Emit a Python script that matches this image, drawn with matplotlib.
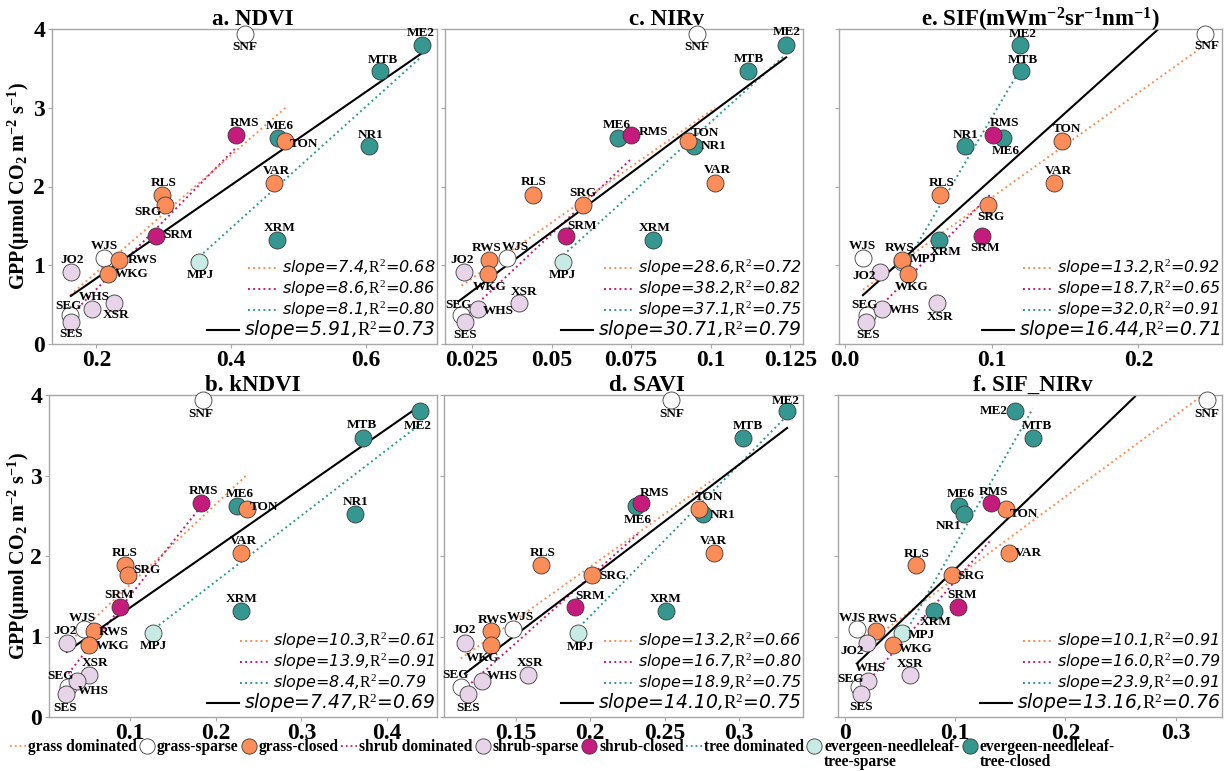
import matplotlib
matplotlib.use('Agg')
import matplotlib.pyplot as plt
from matplotlib.lines import Line2D

plt.rcParams['mathtext.fontset'] = 'custom'
plt.rcParams['mathtext.rm'] = 'Liberation Serif'
plt.rcParams['mathtext.it'] = 'Liberation Serif:italic'
plt.rcParams['mathtext.bf'] = 'Liberation Serif:bold'

# ---------------- data ----------------
sites = ['ME2', 'MTB', 'ME6', 'NR1', 'XRM', 'MPJ',
         'SNF', 'TON', 'VAR', 'RLS', 'SRG', 'WJS', 'RWS', 'WKG', 'SEG',
         'RMS', 'SRM', 'JO2', 'XSR', 'WHS', 'SES']
site_type = ['tc', 'tc', 'tc', 'tc', 'tc', 'ts',
             'gs', 'gc', 'gc', 'gc', 'gc', 'gs', 'gc', 'gc', 'gs',
             'sc', 'sc', 'ss', 'ss', 'ss', 'ss']
gpp = [3.80, 3.47, 2.62, 2.52, 1.32, 1.04,
       3.94, 2.58, 2.04, 1.89, 1.77, 1.09, 1.07, 0.89, 0.37,
       2.66, 1.37, 0.92, 0.52, 0.45, 0.28]

ndvi = [0.684, 0.621, 0.470, 0.605, 0.469, 0.353,
        0.421, 0.480, 0.464, 0.297, 0.302, 0.212, 0.234, 0.217, 0.161,
        0.408, 0.288, 0.162, 0.226, 0.193, 0.162]
kndvi = [0.438, 0.372, 0.225, 0.362, 0.230, 0.127,
         0.185, 0.236, 0.230, 0.094, 0.098, 0.047, 0.058, 0.053, 0.028,
         0.183, 0.088, 0.027, 0.053, 0.038, 0.026]
nirv = [0.1237, 0.1117, 0.0710, 0.0949, 0.0820, 0.0535,
        0.0957, 0.0930, 0.1014, 0.0440, 0.0598, 0.0359, 0.0303, 0.0301, 0.0214,
        0.0750, 0.0546, 0.0225, 0.0399, 0.0270, 0.0229]
savi = [0.332, 0.303, 0.231, 0.276, 0.251, 0.192,
        0.254, 0.273, 0.283, 0.167, 0.201, 0.148, 0.133, 0.133, 0.113,
        0.234, 0.190, 0.116, 0.158, 0.127, 0.118]
sif = [0.1192, 0.1199, 0.1081, 0.0817, 0.0644, 0.0387,
       0.2456, 0.1479, 0.1427, 0.0649, 0.0973, 0.0123, 0.0391, 0.0432, 0.0152,
       0.1007, 0.0935, 0.0242, 0.0626, 0.0253, 0.0145]
sif_nirv = [0.1545, 0.1703, 0.1030, 0.1076, 0.0803, 0.0515,
            0.3282, 0.1461, 0.1485, 0.0642, 0.0970, 0.0106, 0.0282, 0.0433, 0.0130,
            0.1327, 0.1024, 0.0203, 0.0585, 0.0212, 0.0145]

# fitted lines: (x0, x1, y0, y1) for grass, shrub, tree, all
fit_ndvi = [(0.161, 0.481, 0.62, 3.00), (0.167, 0.407, 0.41, 2.49),
            (0.353, 0.683, 1.11, 3.65), (0.162, 0.683, 0.61, 3.69)]
fit_nirv = [(0.0217, 0.1014, 0.74, 3.00), (0.0235, 0.075, 0.39, 2.35),
            (0.0537, 0.1234, 1.13, 3.67), (0.0207, 0.1237, 0.54, 3.64)]
fit_sif = [(0.0123, 0.2434, 0.69, 3.77), (0.0264, 0.1002, 0.52, 1.92),
           (0.0443, 0.1192, 1.11, 3.48), (0.0123, 0.2143, 0.62, 4.01)]
fit_kndvi = [(0.0322, 0.2357, 0.96, 3.00), (0.0283, 0.1795, 0.54, 2.57),
             (0.129, 0.435, 1.10, 3.61), (0.0264, 0.4333, 0.81, 3.83)]
fit_savi = [(0.1129, 0.283, 0.725, 2.955), (0.1174, 0.2336, 0.38, 2.30),
            (0.1928, 0.3305, 1.12, 3.71), (0.1158, 0.3323, 0.54, 3.59)]
fit_sifnirv = [(0.0273, 0.3227, 0.99, 3.98), (0.0258, 0.1324, 0.52, 2.20),
               (0.0524, 0.1703, 0.99, 3.83), (0.0112, 0.263, 0.67, 3.98)]

stats_ndvi = [('7.4', '0.68'), ('8.6', '0.86'), ('8.1', '0.80'), ('5.91', '0.73')]
stats_nirv = [('28.6', '0.72'), ('38.2', '0.82'), ('37.1', '0.75'), ('30.71', '0.79')]
stats_sif = [('13.2', '0.92'), ('18.7', '0.65'), ('32.0', '0.91'), ('16.44', '0.71')]
stats_kndvi = [('10.3', '0.61'), ('13.9', '0.91'), ('8.4', '0.79'), ('7.47', '0.69')]
stats_savi = [('13.2', '0.66'), ('16.7', '0.80'), ('18.9', '0.75'), ('14.10', '0.75')]
stats_sifnirv = [('10.1', '0.91'), ('16.0', '0.79'), ('23.9', '0.91'), ('13.16', '0.76')]

legend_labels = ['grass dominated', 'grass-sparse', 'grass-closed',
                 'shrub dominated', 'shrub-sparse', 'shrub-closed',
                 'tree dominated', 'evergeen-needleleaf-\ntree-sparse',
                 'evergeen-needleleaf-\ntree-closed']

# ---------------- styles ----------------
C_OR = '#fc8d59'
C_MG = '#c51b7d'
C_LV = '#e7d4e8'
C_LC = '#c7eae5'
C_TL = '#35978f'
fill = {'gs': 'white', 'gc': C_OR, 'ss': C_LV, 'sc': C_MG, 'ts': C_LC, 'tc': C_TL}
line_cols = [C_OR, C_MG, C_TL, 'black']
SPINE = '#a8a8a8'
SERIF = 'Liberation Serif'

# label offsets (pixels, dy positive downward)
off_a = {'SNF': (0, 13), 'ME2': (-1, -12), 'MTB': (3, -11), 'RMS': (8, -12), 'ME6': (2, -12),
         'TON': (19, 3), 'NR1': (2, -11), 'VAR': (2, -12), 'RLS': (2, -12), 'SRG': (-17, 7),
         'SRM': (22, -1), 'XRM': (2, -12), 'WJS': (0, -12), 'RWS': (23, 0), 'MPJ': (1, 13),
         'JO2': (1, -12), 'WKG': (24, 0), 'XSR': (2, 12), 'WHS': (3, -12), 'SEG': (-2, -9),
         'SES': (0, 12)}
off_c = {'SNF': (0, 13), 'ME2': (1, -13), 'MTB': (1, -12), 'ME6': (-2, -13), 'RMS': (22, -3),
         'TON': (17, -8), 'NR1': (19, 0), 'VAR': (2, -13), 'RLS': (1, -13), 'SRG': (0, -12),
         'SRM': (16, -10), 'XRM': (1, -12), 'RWS': (-2, -12), 'WJS': (9, -11), 'MPJ': (0, 13),
         'JO2': (-2, -12), 'WKG': (1, 13), 'XSR': (5, -11), 'WHS': (20, 2), 'SEG': (-2, -10),
         'SES': (0, 13)}
off_e = {'ME2': (3, -11), 'MTB': (2, -11), 'NR1': (1, -11), 'RMS': (12, -12), 'ME6': (2, 13),
         'TON': (5, -12), 'VAR': (4, -12), 'RLS': (2, -12), 'SRG': (3, 12), 'SRM': (3, 12),
         'XRM': (6, 12), 'WJS': (0, -12), 'RWS': (-3, -12), 'MPJ': (22, -3), 'JO2': (-16, 4),
         'WKG': (3, 13), 'XSR': (3, 14), 'WHS': (22, 1), 'SEG': (-3, -10), 'SES': (2, 13),
         'SNF': (2, 12)}
off_b = {'SNF': (-2, 14), 'ME2': (-2, 15), 'MTB': (-1, -13), 'RMS': (2, -12), 'ME6': (3, -12),
         'TON': (17, -2), 'NR1': (1, -12), 'VAR': (2, -12), 'RLS': (0, -12), 'SRG': (19, -5),
         'SRM': (0, -12), 'XRM': (0, -12), 'WJS': (-2, -11), 'RWS': (20, 1), 'MPJ': (0, 13),
         'JO2': (-2, -12), 'WKG': (23, 1), 'XSR': (6, -12), 'WHS': (17, 10), 'SEG': (-7, -11),
         'SES': (-1, 14)}
off_d = {'SNF': (1, 14), 'ME2': (-1, -10), 'MTB': (4, -12), 'RMS': (14, -10), 'ME6': (1, 14),
         'TON': (10, -12), 'NR1': (19, 1), 'VAR': (0, -12), 'RLS': (2, -12), 'SRG': (21, 1),
         'SRM': (15, -11), 'XRM': (0, -12), 'RWS': (2, -11), 'WJS': (8, -12), 'MPJ': (2, 14),
         'JO2': (-1, -13), 'WKG': (-8, 13), 'XSR': (2, -12), 'WHS': (21, -5), 'SEG': (-5, -12),
         'SES': (0, 14)}
off_f = {'ME2': (-22, 0), 'MTB': (4, -12), 'ME6': (2, -12), 'NR1': (-15, 12), 'RMS': (2, -11),
         'TON': (18, 5), 'VAR': (20, 0), 'RLS': (1, -11), 'SRG': (19, 1), 'SRM': (4, -12),
         'XRM': (2, 11), 'WJS': (-4, -11), 'RWS': (6, -12), 'MPJ': (20, 2), 'JO2': (-15, 8),
         'WKG': (23, 4), 'XSR': (1, -11), 'WHS': (2, -13), 'SEG': (-9, -8), 'SES': (0, 13),
         'SNF': (0, 14)}

W, H = 1227, 771
fig = plt.figure(figsize=(W / 100, H / 100), dpi=100)


def px_rect(l, t, r, b):
    return [l / W, 1 - b / H, (r - l) / W, (b - t) / H]


panels = [
    dict(rect=(52, 29, 437, 344), x=ndvi, fit=fit_ndvi, stats=stats_ndvi, off=off_a,
         xlim=(0.134, 0.706), xt=[0.2, 0.4, 0.6], xtl=['0.2', '0.4', '0.6'],
         title='a. NDVI', tx=0.522, ylab=True),
    dict(rect=(445, 29, 803, 344), x=nirv, fit=fit_nirv, stats=stats_nirv, off=off_c,
         xlim=(0.0165, 0.129), xt=[0.025, 0.05, 0.075, 0.1, 0.125],
         xtl=['0.025', '0.05', '0.075', '0.1', '0.125'],
         title='c. NIRv', tx=0.62, ylab=False),
    dict(rect=(839, 29, 1222, 344), x=sif, fit=fit_sif, stats=stats_sif, off=off_e,
         xlim=(-0.004, 0.257), xt=[0.0, 0.1, 0.2], xtl=['0.0', '0.1', '0.2'],
         title=r'e. SIF(mWm$^{\mathbf{-2}}$sr$^{\mathbf{-1}}$nm$^{\mathbf{-1}}$)', tx=0.525,
         ylab=False),
    dict(rect=(49, 395, 437, 717), x=kndvi, fit=fit_kndvi, stats=stats_kndvi, off=off_b,
         xlim=(0.0058, 0.458), xt=[0.1, 0.2, 0.3, 0.4], xtl=['0.1', '0.2', '0.3', '0.4'],
         title='b. kNDVI', tx=0.526, ylab=True),
    dict(rect=(444, 395, 803, 717), x=savi, fit=fit_savi, stats=stats_savi, off=off_d,
         xlim=(0.1017, 0.343), xt=[0.15, 0.2, 0.25, 0.3], xtl=['0.15', '0.2', '0.25', '0.3'],
         title='d. SAVI', tx=0.565, ylab=False),
    dict(rect=(838, 395, 1222, 717), x=sif_nirv, fit=fit_sifnirv, stats=stats_sifnirv,
         off=off_f, xlim=(-0.0064, 0.342), xt=[0.0, 0.1, 0.2, 0.3],
         xtl=['0', '0.1', '0.2', '0.3'], title='f. SIF_NIRv', tx=0.508, ylab=False),
]

for p in panels:
    ax = fig.add_axes(px_rect(*p['rect']))
    ax.set_xlim(*p['xlim'])
    ax.set_ylim(0, 4)
    for s in ax.spines.values():
        s.set_color(SPINE)
        s.set_linewidth(1.0)
    # fit lines
    for k, (x0, x1, y0, y1) in enumerate(p['fit']):
        if k < 3:
            ax.plot([x0, x1], [y0, y1], color=line_cols[k], ls=':', lw=1.4, zorder=2)
        else:
            ax.plot([x0, x1], [y0, y1], color='black', ls='-', lw=1.5, zorder=2)
    # points
    xs = p['x']
    for i, name in enumerate(sites):
        ax.scatter([xs[i]], [gpp[i]], s=150, facecolor=fill[site_type[i]],
                   edgecolor='#3a3a3a', linewidth=0.6, zorder=3 + i * 0.01, clip_on=False)
        dx, dy = p['off'][name]
        ax.annotate(name, (xs[i], gpp[i]), xytext=(dx * 0.72, -dy * 0.72),
                    textcoords='offset points', ha='center', va='center',
                    fontsize=9.5, fontweight='bold', family=SERIF, zorder=5)
    # ticks
    ax.set_yticks([0, 1, 2, 3, 4])
    ax.set_xticks(p['xt'])
    ax.set_xticklabels(p['xtl'])
    ax.tick_params(axis='both', colors=SPINE, length=3, width=0.8, labelcolor='black')
    ax.tick_params(axis='x', pad=1)
    ax.tick_params(axis='y', pad=2)
    for lab in ax.get_xticklabels() + ax.get_yticklabels():
        lab.set_family(SERIF)
        lab.set_fontweight('bold')
        lab.set_fontsize(17)
    if p['ylab']:
        ax.set_ylabel(r'GPP(µmol CO$_\mathbf{2}$ m$^{\mathbf{-2}}$ s$^{\mathbf{-1}}$)',
                      family=SERIF, fontweight='bold', fontsize=14.5)
        ax.yaxis.set_label_coords((32 - p['rect'][0]) / (p['rect'][2] - p['rect'][0]), 0.5)
    else:
        ax.set_yticklabels([])
    ax.text(p['tx'], 1.0 + 9.5 / (p['rect'][3] - p['rect'][1]), p['title'],
            transform=ax.transAxes, ha='center', va='center',
            family=SERIF, fontweight='bold', fontsize=16.5)
    # legends
    st = p['stats']
    h3 = [Line2D([], [], color=line_cols[k], ls=':', lw=1.4) for k in range(3)]
    l3 = ['slope=%s,$\\mathrm{R}^{2}$=%s' % st[k] for k in range(3)]
    axh = p['rect'][3] - p['rect'][1]
    leg1 = ax.legend(h3, l3, loc='lower right', bbox_to_anchor=(1.0, 22 / axh),
                     frameon=False, prop=dict(family='DejaVu Sans', style='italic', size=11.5),
                     handlelength=1.9, handletextpad=0.2, labelspacing=0.05,
                     borderpad=0.0, borderaxespad=0.1)
    ax.add_artist(leg1)
    ax.legend([Line2D([], [], color='black', lw=1.5)],
              ['slope=%s,$\\mathrm{R}^{2}$=%s' % st[3]], loc='lower right',
              bbox_to_anchor=(1.0, 0.0), frameon=False,
              prop=dict(family='DejaVu Sans', style='italic', size=13.5),
              handlelength=1.7, handletextpad=0.25, borderpad=0.0, borderaxespad=0.1)

# bottom legend (first lines in the legend, second lines placed beneath)
first_lines = [lab.split('\n')[0] for lab in legend_labels]
second_lines = [lab.split('\n')[1] if '\n' in lab else '' for lab in legend_labels]
mk = dict(marker='o', ls='', mec='#3a3a3a', mew=0.6, ms=11)
bh = [
    Line2D([], [], color=C_OR, ls=':', lw=1.3),
    Line2D([], [], mfc='white', **mk),
    Line2D([], [], mfc=C_OR, **mk),
    Line2D([], [], color=C_MG, ls=':', lw=1.3),
    Line2D([], [], mfc=C_LV, **mk),
    Line2D([], [], mfc=C_MG, **mk),
    Line2D([], [], color=C_TL, ls=':', lw=1.3),
    Line2D([], [], mfc=C_LC, **mk),
    Line2D([], [], mfc=C_TL, **mk),
]
LEG_FS = 11.2
bleg = fig.legend(bh, first_lines, loc='upper left', bbox_to_anchor=(10 / W, 1 - 739 / H),
                  ncol=9, frameon=False,
                  prop=dict(family=SERIF, weight='bold', size=LEG_FS),
                  handlelength=1.05, handletextpad=0.1, columnspacing=0.15,
                  borderpad=0.0, borderaxespad=0.0)
fig.canvas.draw()
renderer = fig.canvas.get_renderer()
inv = fig.transFigure.inverted()
for txt, second in zip(bleg.get_texts(), second_lines):
    if second:
        bb = txt.get_window_extent(renderer)
        x0, y0 = inv.transform((bb.x0, bb.y0))
        fig.text(x0, y0 + 1 / H, second, ha='left', va='top', family=SERIF,
                 fontweight='bold', fontsize=LEG_FS, linespacing=1.0)

fig.savefig('out.png', dpi=100)
